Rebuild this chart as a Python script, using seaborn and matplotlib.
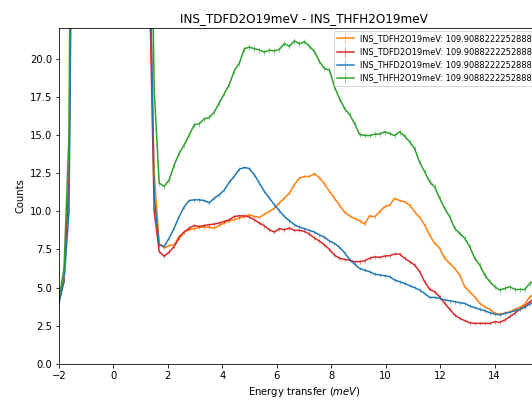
# =========================================
# INS DIFFERENCE SPECTRA - 19 meV
# =========================================

import numpy as np
import pandas as pd
import matplotlib
matplotlib.use("Agg")
import matplotlib.pyplot as plt
from matplotlib.lines import Line2D
import seaborn as sns

# =========================================
# DATA
# =========================================

bin_width = 0.184
energy = np.round(-2.0 + bin_width * np.arange(96), 3)

workspaces = ["INS_TDFH2O19meV", "INS_TDFD2O19meV",
              "INS_THFD2O19meV", "INS_THFH2O19meV"]
scale_value = "109.9088222252888"

tdfh_counts = [
    4.1, 5.7, 12.0,
    55, 160, 420, 850, 1400, 1900, 2250, 2350, 2150, 1700, 1150, 700, 350, 150, 65, 28,
    12.5,
    7.9, 7.6, 7.76, 7.8, 8.36, 8.64, 8.8, 8.86, 8.95, 8.97,
    8.95, 8.9, 9.07, 9.23, 9.38, 9.45, 9.55, 9.66, 9.77, 9.66,
    9.6, 9.81, 9.99, 10.2, 10.54, 10.86, 11.19, 11.74, 12.17, 12.28,
    12.28, 12.46, 12.2, 11.8, 11.3, 10.85, 10.4, 9.95, 9.7, 9.53,
    9.38, 9.16, 9.7, 9.64, 9.97, 10.3, 10.4, 10.84, 10.7, 10.63,
    10.4, 9.97, 9.6, 9.1, 8.44, 7.9, 7.57, 6.92, 6.59, 6.26,
    5.82, 5.06, 4.73, 4.4, 3.97, 3.75, 3.58, 3.32, 3.27, 3.32,
    3.43, 3.58, 3.71, 3.93, 4.4, 4.6,
]

tdfd_counts = [
    4.3, 5.5, 12.0,
    50, 150, 400, 820, 1350, 1850, 2200, 2300, 2100, 1650, 1100, 680, 340, 140, 60, 26,
    10.0,
    7.37, 7.05, 7.33, 7.7, 8.25, 8.64, 8.9, 9.07, 9.0, 9.07,
    9.12, 9.16, 9.23, 9.34, 9.44, 9.66, 9.7, 9.7, 9.62, 9.44,
    9.23, 9.05, 8.79, 8.64, 8.86, 8.79, 8.9, 8.75, 8.75, 8.69,
    8.5, 8.25, 8.05, 7.8, 7.5, 7.13, 6.92, 6.85, 6.8, 6.7,
    6.7, 6.76, 6.92, 7.02, 6.98, 7.07, 7.09, 7.2, 7.2, 6.92,
    6.7, 6.48, 6.05, 5.39, 4.89, 4.73, 4.4, 3.97, 3.58, 3.21,
    2.99, 2.84, 2.7, 2.66, 2.66, 2.66, 2.66, 2.77, 2.73, 2.88,
    3.1, 3.32, 3.58, 3.8, 4.08, 4.3,
]

thfd_counts = [
    3.97, 5.4, 10.0,
    45, 140, 380, 800, 1300, 1800, 2150, 2250, 2050, 1600, 1080, 660, 330, 135, 58, 30,
    11.0,
    7.8, 7.7, 8.25, 8.9, 9.66, 10.3, 10.7, 10.75, 10.75, 10.7,
    10.55, 10.86, 11.08, 11.4, 11.9, 12.3, 12.75, 12.87, 12.8, 12.39,
    11.85, 11.3, 10.86, 10.43, 10.03, 9.66, 9.38, 9.12, 8.97, 8.86,
    8.75, 8.64, 8.45, 8.3, 8.05, 7.9, 7.64, 7.29, 6.85, 6.54,
    6.26, 6.15, 6.04, 5.89, 5.83, 5.78, 5.72, 5.5, 5.39, 5.28,
    5.13, 5.0, 4.84, 4.62, 4.36, 4.36, 4.3, 4.19, 4.14, 4.08,
    4.01, 3.97, 3.8, 3.69, 3.58, 3.49, 3.36, 3.27, 3.21, 3.32,
    3.38, 3.49, 3.58, 3.71, 3.93, 4.1,
]

thfh_counts = [
    4.3, 6.26, 15.0,
    70, 200, 500, 1000, 1600, 2200, 2600, 2700, 2500, 2000, 1350, 820, 420, 180, 80, 40,
    18.0,
    11.85, 11.63, 12.06, 13.04, 13.8, 14.35, 15.0, 15.66, 15.73, 16.05,
    16.14, 16.5, 17.1, 17.7, 18.3, 19.2, 19.7, 20.64, 20.75, 20.64,
    20.57, 20.42, 20.55, 20.5, 20.6, 20.98, 20.8, 21.16, 20.96, 21.1,
    20.8, 20.46, 19.8, 19.35, 19.24, 18.15, 17.39, 16.73, 16.34, 15.75,
    15.03, 14.97, 14.95, 15.05, 15.05, 15.2, 15.1, 14.95, 15.2, 14.92,
    14.55, 14.1, 13.2, 12.59, 11.93, 11.6, 10.84, 10.19, 9.64, 8.88,
    8.55, 8.23, 7.68, 6.92, 6.48, 5.82, 5.39, 5.06, 4.84, 4.95,
    5.06, 4.88, 4.88, 4.88, 5.28, 5.5,
]

# one error estimate per workspace
count_errors = [0.12, 0.12, 0.12, 0.18]

colors = ["#ff7f0e", "#d62728", "#1f77b4", "#2ca02c"]

all_counts = [tdfh_counts, tdfd_counts, thfd_counts, thfh_counts]

# LONG FORM TABLE FOR SEABORN
frames = []
for name, counts in zip(workspaces, all_counts):
    frames.append(pd.DataFrame({
        "Energy": energy,
        "Counts": counts,
        "Workspace": name,
    }))
df = pd.concat(frames, ignore_index=True)

# =========================================
# PLOT
# =========================================

DPI = 72
fig = plt.figure(figsize=(532 / DPI, 400 / DPI), dpi=DPI)
ax = fig.add_axes([59 / 532, 36 / 400, 490 / 532, 336 / 400])

sns.lineplot(
    data=df,
    x="Energy",
    y="Counts",
    hue="Workspace",
    hue_order=workspaces,
    palette=colors,
    estimator=None,
    sort=False,
    linewidth=1.5,
    legend=False,
    ax=ax,
)

# error bars on every bin
for counts, err, c in zip(all_counts, count_errors, colors):
    eb = ax.errorbar(energy, counts, yerr=err, fmt="none",
                     ecolor=c, elinewidth=1.0)
    for lc in eb.lines[2]:
        lc.set_alpha(0.5)

ax.set_xlim(-2, 16)
ax.set_ylim(0, 22)
ax.set_xticks(range(-2, 15, 2))

ax.set_title("INS_TDFD2O19meV - INS_THFH2O19meV")
ax.set_xlabel("Energy transfer ($meV$)")
ax.set_ylabel("Counts")

# LEGEND (line + errorbar glyph)
handles = []
for c in colors:
    handles.append((
        Line2D([], [], color=c, lw=1.5),
        Line2D([], [], color=c, marker="|", ms=10, mew=1.0, ls="none", alpha=0.5),
    ))
labels = [name + ": " + scale_value for name in workspaces]

ax.legend(
    handles,
    labels,
    loc="upper left",
    bbox_to_anchor=(334 / 532, 1 - 31 / 400),
    bbox_transform=fig.transFigure,
    borderaxespad=0,
    fontsize=8.2,
)

fig.savefig("out.png", dpi=DPI)
